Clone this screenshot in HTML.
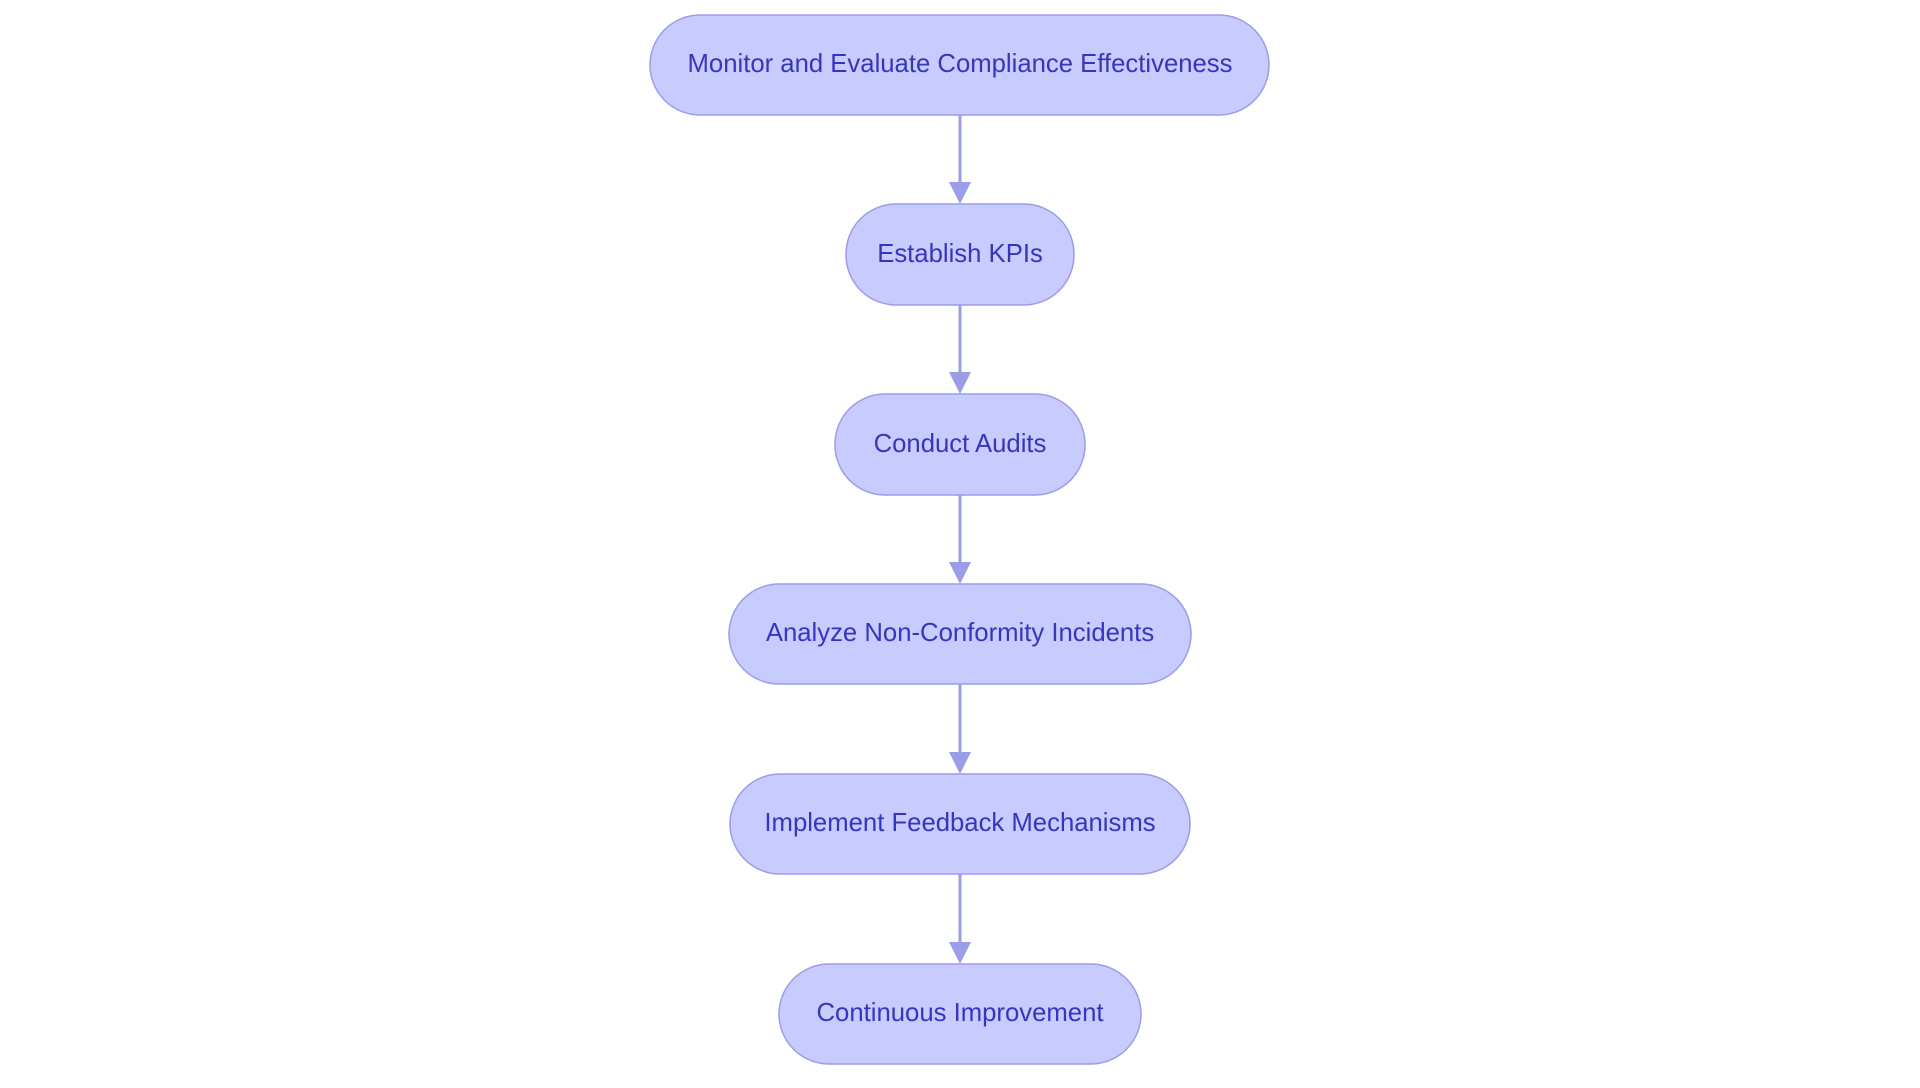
<!DOCTYPE html>
<html><head><meta charset="utf-8"><style>
html,body{margin:0;padding:0;background:#fff;}
body{width:1920px;height:1083px;overflow:hidden;}
</style></head><body>
<svg width="1920" height="1083" viewBox="0 0 1920 1083" xmlns="http://www.w3.org/2000/svg">
<g stroke="#9a9de8" stroke-width="3" fill="#9a9de8">
<line x1="960" y1="115" x2="960" y2="184"/><polygon points="949,182 971,182 960,204" stroke="none"/>
<line x1="960" y1="305" x2="960" y2="374"/><polygon points="949,372 971,372 960,394" stroke="none"/>
<line x1="960" y1="495" x2="960" y2="564"/><polygon points="949,562 971,562 960,584" stroke="none"/>
<line x1="960" y1="684" x2="960" y2="754"/><polygon points="949,752 971,752 960,774" stroke="none"/>
<line x1="960" y1="874" x2="960" y2="944"/><polygon points="949,942 971,942 960,964" stroke="none"/>
</g>
<g fill="#c8cbfd" stroke="#9a9de8" stroke-width="1.5">
<rect x="650" y="15" width="619" height="100" rx="50"/>
<rect x="846" y="204" width="228" height="101" rx="50"/>
<rect x="835" y="394" width="250" height="101" rx="50"/>
<rect x="729" y="584" width="462" height="100" rx="50"/>
<rect x="730" y="774" width="460" height="100" rx="50"/>
<rect x="779" y="964" width="362" height="100" rx="50"/>
</g>
<g font-family="Liberation Sans, sans-serif" font-size="25.7" fill="#3636bd" text-anchor="middle" dominant-baseline="central">
<text x="960" y="64">Monitor and Evaluate Compliance Effectiveness</text>
<text x="960" y="254">Establish KPIs</text>
<text x="960" y="444">Conduct Audits</text>
<text x="960" y="633">Analyze Non-Conformity Incidents</text>
<text x="960" y="823">Implement Feedback Mechanisms</text>
<text x="960" y="1013">Continuous Improvement</text>
</g>
</svg>
</body></html>
